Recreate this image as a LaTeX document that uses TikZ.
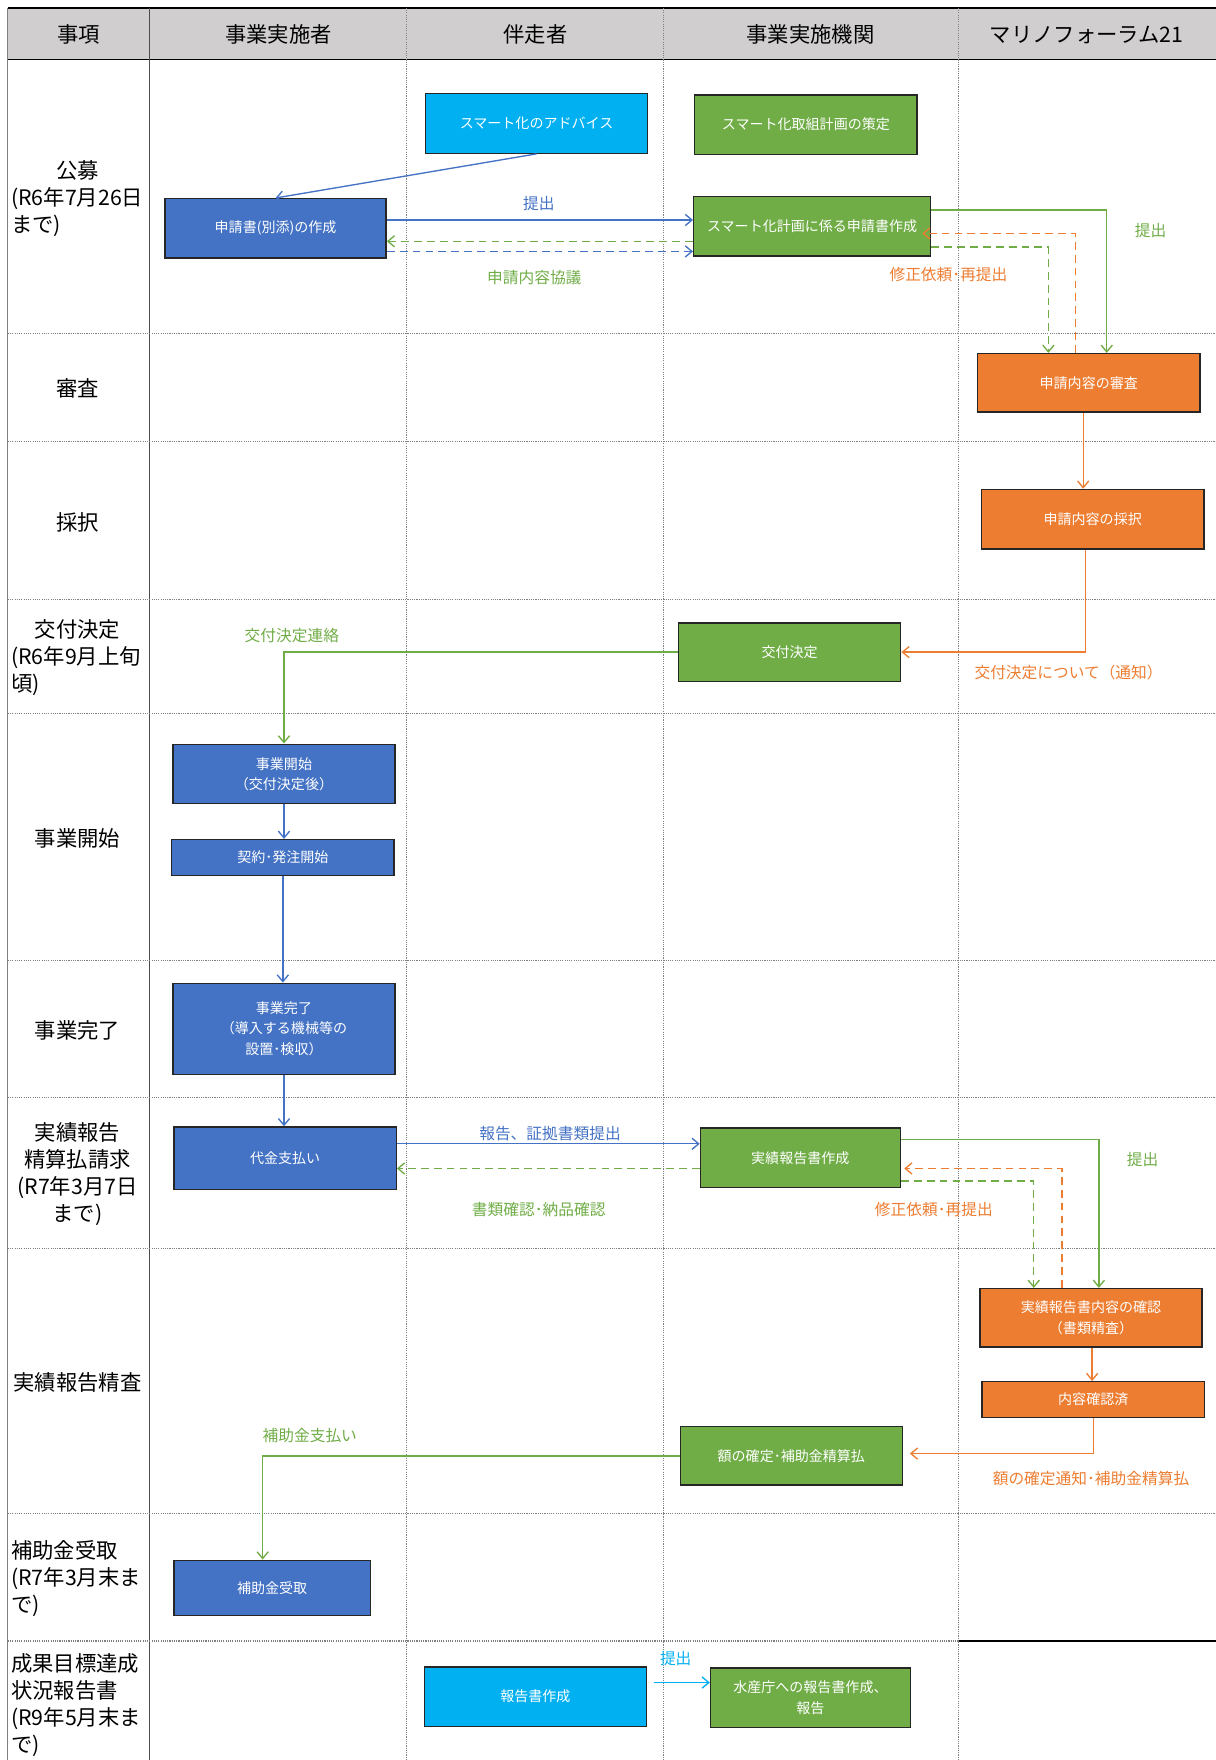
\documentclass[tikz,border=0pt]{standalone}
\usepackage{fontspec}
\setmainfont{Noto Sans CJK JP}
\usepackage{tikz}
\usetikzlibrary{arrows.meta}
\definecolor{hdgray}{HTML}{D0CECE}
\definecolor{xblue}{HTML}{4472C4}
\definecolor{xgreen}{HTML}{70AD47}
\definecolor{xorange}{HTML}{ED7D31}
\definecolor{xcyan}{HTML}{00B0F0}

\begin{document}
\begin{tikzpicture}[x=1pt, y=-1pt,
		>={Straight Barb[length=6pt,width=10pt]},
		box/.style={draw=black!85, line width=1.2pt, text=white, minimum width=198pt, minimum height=53pt, inner sep=2pt, align=center, font=\fontsize{12.5}{18}\selectfont},
		bluebox/.style={box, fill=xblue},
		greenbox/.style={box, fill=xgreen},
		orangebox/.style={box, fill=xorange},
		cyanbox/.style={box, fill=xcyan},
		head/.style={font=\fontsize{19}{21}\selectfont},
		side/.style={font=\fontsize{19}{24}\selectfont, text width=118pt, inner sep=0pt},
		lbl/.style={font=\fontsize{14}{16}\selectfont, inner sep=0pt},
		link/.style={line width=1.2pt},
		dashlink/.style={line width=1.2pt, dash pattern=on 7pt off 4.5pt}
	]
		\useasboundingbox (0,0) rectangle (1083,1568);

		% grid
		\fill[hdgray] (7,7) rectangle (1083,53);
		\draw[line width=2pt] (7,7) -- (1083,7);
		\draw[line width=1pt] (7,53) -- (1083,53);
		\draw[gray, line width=0.8pt] (7,7) -- (7,1568);
		\draw[black!70, line width=1pt] (133,7) -- (133,1568);
		\foreach \x in {362,591,854} {
			\draw[gray, densely dotted, line width=1pt] (\x,7) -- (\x,1568);
		}
		\foreach \y in {297,393,534,636,856,978,1112,1348,1462} {
			\draw[gray, densely dotted, line width=1pt] (7,\y) -- (1083,\y);
		}
		\draw[line width=1pt] (854,1462) -- (1083,1462);

		% header
		\node[head] (hitem) at (70,31) {事項};
		\node[head] (hdoer) at (248,31) {事業実施者};
		\node[head] (hcoach) at (477,31) {伴走者};
		\node[head] (hbody) at (722,31) {事業実施機関};
		\node[head] (hmf) at (968,31) {マリノフォーラム21};

		% left column
		\node[side, align=left] (sboshu) at (69,177) {\makebox[118pt]{公募}\\(R6年7月26日\\まで)};
		\node[side, align=center] (sshinsa) at (69,346) {審査};
		\node[side, align=center] (ssaitaku) at (69,465) {採択};
		\node[side, align=left] (skofu) at (69,586) {\makebox[118pt]{交付決定}\\(R6年9月上旬\\頃)};
		\node[side, align=center] (skaishi) at (69,747) {事業開始};
		\node[side, align=center] (skanryo) at (69,918) {事業完了};
		\node[side, align=center] (sjisseki) at (69,1046) {実績報告\\精算払請求\\(R7年3月7日\\まで)};
		\node[side, align=center] (sseisa) at (69,1232) {実績報告精査};
		\node[side, align=left] (sjuryo) at (69,1406) {補助金受取\\(R7年3月末ま\\で)};
		\node[side, align=left] (sseika) at (69,1519) {成果目標達成\\状況報告書\\(R9年5月末ま\\で)};

		% boxes
		\node[cyanbox] (advice) at (478,110) {スマート化のアドバイス};
		\node[greenbox] (plan) at (718,111) {スマート化取組計画の策定};
		\node[bluebox, minimum width=197pt] (app) at (245.5,203.5) {申請書(別添)の作成};
		\node[greenbox, minimum width=211pt] (smartapp) at (723.5,201.5) {スマート化計画に係る申請書作成};
		\node[orangebox, minimum height=52pt] (exam) at (970,341) {申請内容の審査};
		\node[orangebox] (adopt) at (973.5,462.5) {申請内容の採択};
		\node[greenbox, minimum height=52pt] (grant) at (703.5,581) {交付決定};
		\node[bluebox] (start) at (253,689.5) {事業開始\\（交付決定後）};
		\node[bluebox, minimum height=32pt] (contract) at (252,764) {契約･発注開始};
		\node[bluebox, minimum height=81pt] (finish) at (253,916.5) {事業完了\\（導入する機械等の\\設置･検収）};
		\node[bluebox, minimum height=56pt] (pay) at (254,1032) {代金支払い};
		\node[greenbox, minimum width=178pt] (report) at (713,1031.5) {実績報告書作成};
		\node[orangebox, minimum height=52pt] (check) at (972,1174) {実績報告書内容の確認\\（書類精査）};
		\node[orangebox, minimum height=32pt] (checked) at (974,1247) {内容確認済};
		\node[greenbox, minimum height=52pt] (settle) at (705,1297) {額の確定･補助金精算払};
		\node[bluebox, minimum width=175pt, minimum height=49pt] (receive) at (242.5,1414.5) {補助金受取};
		\node[cyanbox] (rep) at (477,1511.5) {報告書作成};
		\node[greenbox, minimum width=178pt] (fisheries) at (722,1512.5) {水産庁への報告書作成、\\報告};

		% connectors
		\draw[link, xblue, ->] (advice.south) -- (app.north);
		\draw[link, xblue, ->] ([yshift=7.5pt]app.east) -- ([yshift=7.5pt]app.east -| smartapp.west);
		\draw[dashlink, xgreen, ->] ([yshift=-11.5pt]app.east -| smartapp.west) -- ([yshift=-11.5pt]app.east);
		\draw[dashlink, xblue, ->] ([yshift=-20.5pt]app.east) -- ([yshift=-20.5pt]app.east -| smartapp.west);
		\draw[link, xgreen, ->] ([yshift=14.5pt]smartapp.east) -| ([xshift=16pt]exam.north);
		\draw[dashlink, xorange, ->] ([xshift=-12pt]exam.north) |- ([xshift=-8pt,yshift=-6.5pt]smartapp.east);
		\draw[dashlink, xgreen, ->] ([yshift=-18.5pt]smartapp.east) -| ([xshift=-36pt]exam.north);
		\draw[link, xorange, ->] ([xshift=-5pt]exam.south) -- ([xshift=-5pt]exam.south |- adopt.north);
		\draw[link, xorange, ->] ([xshift=-6.5pt]adopt.south) |- (grant.east);
		\draw[link, xgreen, ->] (grant.west) -| (start.north);
		\draw[link, xblue, ->] (start.south) -- (start.south |- contract.north);
		\draw[link, xblue, ->] (contract.south) -- (contract.south |- finish.north);
		\draw[link, xblue, ->] (finish.south) -- (finish.south |- pay.north);
		\draw[link, xblue, ->] ([yshift=13pt]pay.east) -- ([yshift=13pt]pay.east -| report.west);
		\draw[dashlink, xgreen, ->] ([yshift=-9pt]pay.east -| report.west) -- ([yshift=-9pt]pay.east);
		\draw[link, xgreen, ->] ([yshift=16.5pt]report.east) -| ([xshift=7pt]check.north);
		\draw[dashlink, xorange, ->] ([xshift=-26pt]check.north) |- ([xshift=3pt,yshift=-9.5pt]report.east);
		\draw[dashlink, xgreen, ->] ([yshift=-20.5pt]report.east) -| ([xshift=-51pt]check.north);
		\draw[link, xorange, ->] ([xshift=1pt]check.south) -- ([xshift=1pt]check.south |- checked.north);
		\draw[link, xorange, ->] (checked.south) |- ([xshift=6pt,yshift=2pt]settle.east);
		\draw[link, xgreen, ->] (settle.west) -| ([xshift=-8.5pt]receive.north);
		\draw[link, xcyan, ->] ([xshift=6pt,yshift=12.5pt]rep.east) -- ([yshift=12.5pt]rep.east -| fisheries.west);

		% connector labels
		\node[lbl, text=xblue] (lsubmit) at (480,181) {提出};
		\node[lbl, text=xgreen] (lconsult) at (476,247) {申請内容協議};
		\node[lbl, text=xgreen] (lsubmitb) at (1025,205) {提出};
		\node[lbl, text=xorange] (lredo) at (845,245) {修正依頼･再提出};
		\node[lbl, text=xorange] (lnotice) at (952,599) {交付決定について（通知）};
		\node[lbl, text=xgreen] (lcontact) at (260,566) {交付決定連絡};
		\node[lbl, text=xblue] (lproof) at (490,1010) {報告、証拠書類提出};
		\node[lbl, text=xgreen] (ldelivery) at (480,1078) {書類確認･納品確認};
		\node[lbl, text=xgreen] (lsubmitc) at (1018,1033) {提出};
		\node[lbl, text=xorange] (lredob) at (832,1078) {修正依頼･再提出};
		\node[lbl, text=xorange] (lsettle) at (972,1317) {額の確定通知･補助金精算払};
		\node[lbl, text=xgreen] (lpayout) at (276,1279) {補助金支払い};
		\node[lbl, text=xcyan] (lsubmitd) at (602,1478) {提出};
	\end{tikzpicture}
\end{document}
